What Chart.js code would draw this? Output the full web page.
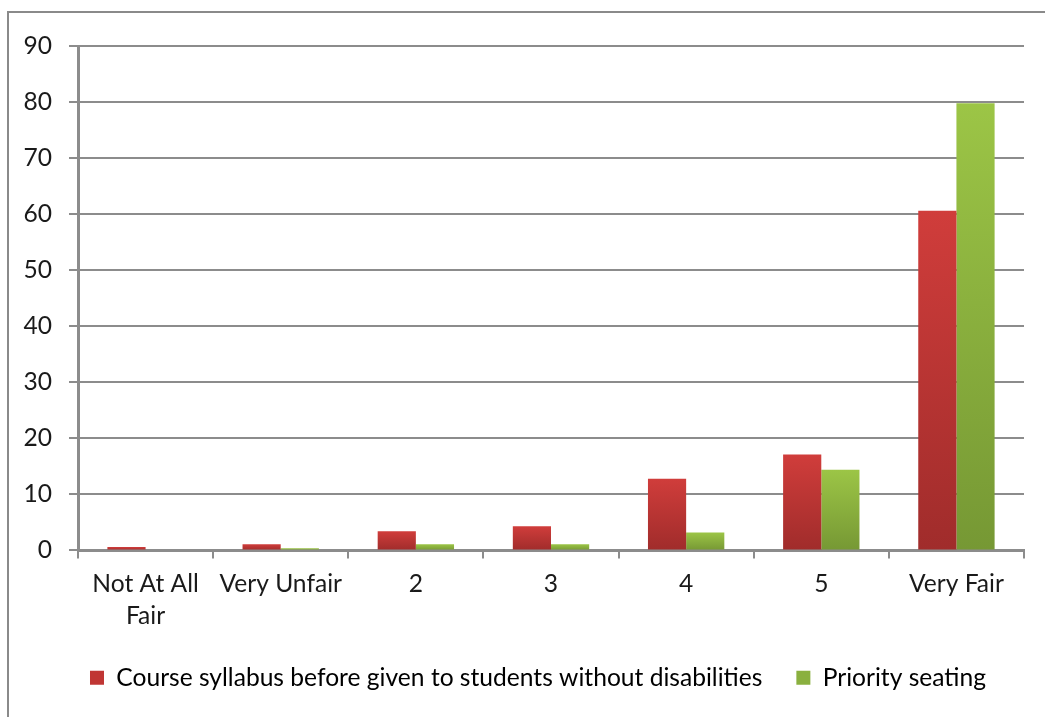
<!DOCTYPE html>
<html lang="en">
<head>
  <meta charset="UTF-8">
  <title>Fairness ratings</title>
  <style>
    html, body {
      margin: 0;
      padding: 0;
      background: #ffffff;
      overflow: hidden;
    }

    .frame {
      position: absolute;
      left: 7px;
      top: 11px;
      width: 1100px;
      height: 800px;
      border-top: 2px solid #8a8a8a;
      border-left: 2px solid #8a8a8a;
    }

    .chart-box {
      position: absolute;
      left: 0;
      top: 0;
      width: 1045px;
      height: 717px;
    }
  </style>
</head>
<body>

  <div class="frame"></div>
  <div class="chart-box">
    <canvas id="fairChart" width="1045" height="717"></canvas>
  </div>

  <script src="https://cdn.jsdelivr.net/npm/chart.js"></script>

  <script>
    const categories = [["Not At All", "Fair"], "Very Unfair", "2", "3", "4", "5", "Very Fair"];
    const syllabusValues = [0.6, 1.1, 3.4, 4.3, 12.8, 17.1, 60.6];
    const seatingValues = [0, 0.4, 1.1, 1.1, 3.2, 14.4, 79.8];
    const seriesNames = ["Course syllabus before given to students without disabilities", "Priority seating"];

    const gridGray = "#8c8c8c";
    const font = { family: "Lato, 'Open Sans', sans-serif", size: 24.6 };

    // vertical gradient from the bar's top down to the baseline
    function barGradient(top, bottom) {
      return function(context) {
        const chart = context.chart;
        if (!chart.chartArea || context.parsed == null) return top;
        const y = chart.scales.y;
        const y0 = y.getPixelForValue(0);
        let y1 = y.getPixelForValue(context.parsed.y);
        if (y0 - y1 < 1) y1 = y0 - 1;
        const g = chart.ctx.createLinearGradient(0, y1, 0, y0);
        g.addColorStop(0, top);
        g.addColorStop(1, bottom);
        return g;
      };
    }

    // push the legend row a little right of the canvas centre
    const legendShift = {
      id: "legendShift",
      afterLayout(chart) {
        if (chart.legend) {
          chart.legend.left += 26;
          chart.legend.right += 26;
        }
      }
    };

    const ctx = document.getElementById("fairChart").getContext("2d");
    new Chart(ctx, {
      type: "bar",
      data: {
        labels: categories,
        datasets: [
          {
            label: seriesNames[0],
            data: syllabusValues,
            backgroundColor: barGradient("#d03d3b", "#a02c2b"),
            borderWidth: 0
          },
          {
            label: seriesNames[1],
            data: seatingValues,
            backgroundColor: barGradient("#9cc546", "#769834"),
            borderWidth: 0
          }
        ]
      },
      options: {
        responsive: false,
        animation: false,
        datasets: {
          bar: { categoryPercentage: 0.565, barPercentage: 1 }
        },
        layout: {
          padding: { top: 46, right: 21, left: 0, bottom: 17 }
        },
        scales: {
          x: {
            offset: true,
            grid: {
              offset: true,
              drawOnChartArea: false,
              drawTicks: true,
              tickLength: 8,
              color: gridGray,
              lineWidth: 2
            },
            border: { color: gridGray, width: 3 },
            ticks: {
              color: "#1a1a1a",
              font: { family: font.family, size: font.size, lineHeight: 1.3 },
              padding: 10,
              maxRotation: 0,
              autoSkip: false
            },
            afterFit: function(scale) { scale.height = 81; }
          },
          y: {
            min: 0,
            max: 90,
            ticks: {
              stepSize: 10,
              color: "#1a1a1a",
              font: font,
              padding: 17
            },
            grid: {
              color: gridGray,
              lineWidth: 2,
              drawTicks: true,
              tickLength: 9
            },
            border: { color: gridGray, width: 3 },
            afterFit: function(scale) { scale.width = 78; }
          }
        },
        plugins: {
          legend: {
            position: "bottom",
            labels: {
              boxWidth: 14,
              boxHeight: 14,
              padding: 34,
              color: "#1a1a1a",
              font: font,
              generateLabels: function(chart) {
                const solid = ["#c03634", "#8ab03f"];
                return chart.data.datasets.map((ds, i) => ({
                  text: ds.label,
                  fillStyle: solid[i],
                  strokeStyle: solid[i],
                  lineWidth: 0,
                  datasetIndex: i
                }));
              }
            }
          },
          tooltip: { enabled: false }
        }
      },
      plugins: [legendShift]
    });
  </script>

</body>
</html>
